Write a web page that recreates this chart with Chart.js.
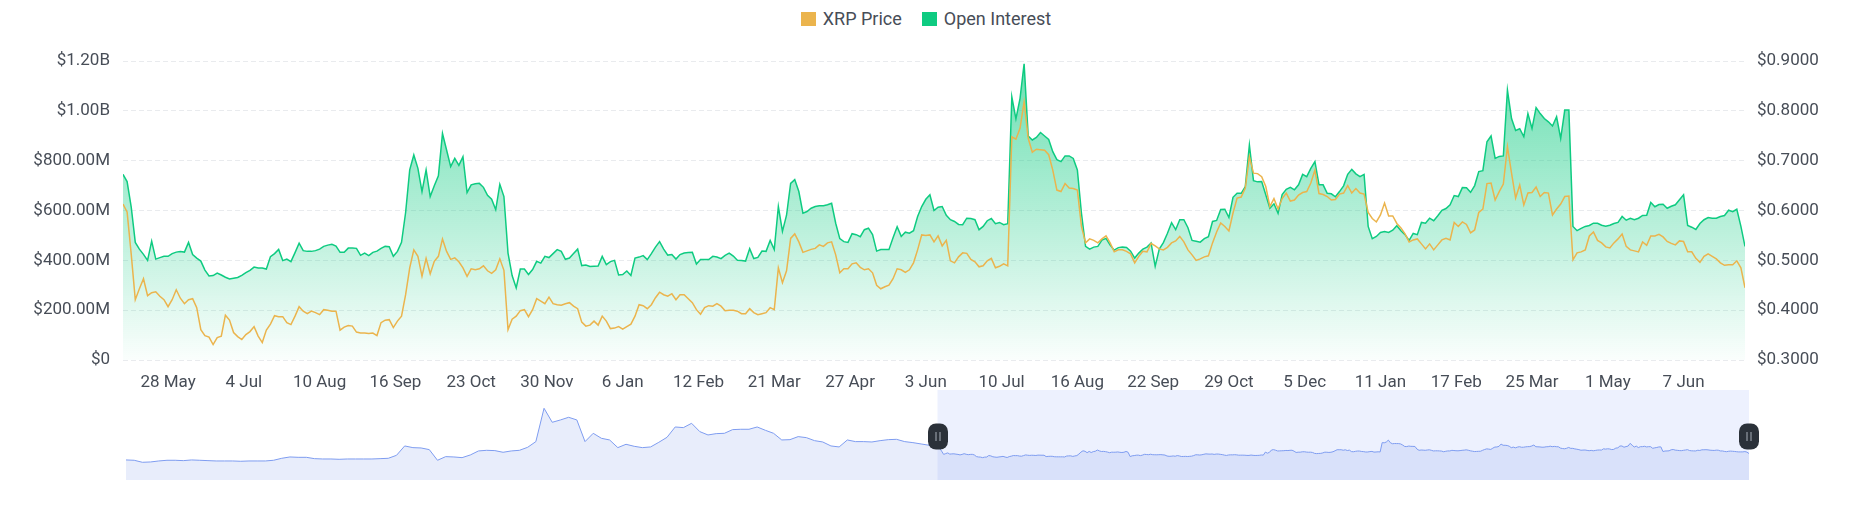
<!DOCTYPE html>
<html>
<head>
<meta charset="utf-8">
<title>XRP Open Interest</title>
<script src="https://cdn.jsdelivr.net/npm/chart.js@4.4.1/dist/chart.umd.min.js"></script>
<style>
  body { margin: 0; background: #fff; font-family: Roboto, sans-serif; }
  #wrap { position: relative; width: 1852px; height: 525px; }
  #mainChart, #navChart { position: absolute; left: 0; }
  #mainChart { top: 0; }
  #navChart { top: 385px; }
  #legend {
    position: absolute; top: 9px; left: 0; width: 1852px;
    display: flex; justify-content: center; gap: 20px;
    font-size: 18px; line-height: 20px; color: #474D57;
  }
  .item { display: flex; align-items: center; }
  .box { width: 15px; height: 14px; margin-right: 7px; }
</style>
</head>
<body>
<div id="wrap">
  <div id="legend"></div>
  <canvas id="mainChart" width="1852" height="400"></canvas>
  <canvas id="navChart" width="1852" height="100"></canvas>
</div>
<script>
// ---------- DATA ----------
// one sample every 2 days, day 0 = 6 May 2022
const SAMPLE_DAYS = 2;

// open interest, USD millions
const openInterest = [
  745, 716, 615, 472, 445, 424, 400, 477, 405, 411,
  416, 416, 427, 433, 435, 433, 472, 423, 409, 397,
  361, 337, 339, 349, 341, 332, 325, 328, 331, 340,
  351, 360, 373, 369, 369, 365, 415, 427, 444, 399,
  405, 395, 431, 469, 439, 436, 436, 439, 445, 456,
  461, 464, 457, 432, 432, 449, 449, 448, 420, 429,
  419, 432, 437, 448, 456, 455, 416, 436, 472, 592,
  763, 823, 769, 676, 763, 656, 699, 739, 909, 843,
  776, 809, 781, 816, 672, 703, 707, 709, 693, 661,
  645, 603, 705, 656, 429, 339, 289, 365, 365, 343,
  363, 396, 389, 416, 411, 427, 443, 436, 404, 409,
  427, 445, 379, 381, 375, 376, 377, 416, 383, 395,
  400, 341, 343, 357, 339, 409, 413, 419, 403, 427,
  453, 475, 445, 421, 423, 405, 423, 429, 431, 432,
  385, 403, 403, 403, 416, 413, 407, 420, 429, 417,
  400, 399, 397, 447, 407, 412, 437, 436, 480, 443,
  616, 516, 581, 709, 724, 676, 589, 596, 609, 616,
  619, 619, 623, 629, 549, 487, 475, 472, 507, 503,
  495, 523, 529, 503, 437, 443, 443, 443, 491, 535,
  496, 513, 509, 519, 576, 616, 645, 663, 600, 613,
  616, 581, 563, 556, 544, 543, 569, 568, 563, 523,
  536, 559, 568, 547, 552, 543, 547, 1056, 968, 1049,
  1189, 899, 883, 893, 913, 899, 885, 836, 804, 796,
  819, 819, 809, 763, 589, 456, 445, 453, 456, 481,
  488, 461, 441, 451, 453, 452, 437, 409, 429, 445,
  453, 469, 376, 445, 471, 509, 551, 523, 563, 563,
  531, 480, 477, 473, 487, 495, 556, 560, 604, 605,
  572, 653, 669, 669, 696, 863, 720, 715, 716, 663,
  609, 627, 589, 664, 685, 693, 683, 703, 745, 736,
  769, 796, 703, 703, 669, 667, 655, 676, 699, 745,
  765, 747, 736, 745, 536, 487, 496, 512, 516, 512,
  521, 539, 519, 503, 480, 508, 503, 552, 549, 569,
  559, 579, 601, 608, 623, 660, 656, 692, 691, 673,
  700, 756, 760, 876, 899, 809, 817, 819, 1083, 969,
  921, 928, 896, 989, 929, 1013, 989, 969, 956, 939,
  976, 889, 1003, 1003, 536, 519, 528, 536, 540, 549,
  549, 541, 537, 541, 548, 552, 576, 561, 569, 563,
  569, 580, 581, 632, 615, 624, 625, 609, 617, 623,
  643, 663, 540, 533, 524, 548, 563, 572, 569, 569,
  576, 580, 601, 595, 605, 536, 456
];

// XRP price, USD
const xrpPrice = [
  0.613, 0.597, 0.513, 0.421, 0.443, 0.463, 0.429, 0.435, 0.437, 0.428,
  0.421, 0.407, 0.421, 0.441, 0.424, 0.413, 0.421, 0.423, 0.405, 0.361,
  0.349, 0.346, 0.331, 0.345, 0.348, 0.390, 0.380, 0.355, 0.347, 0.341,
  0.351, 0.357, 0.367, 0.348, 0.335, 0.360, 0.372, 0.389, 0.387, 0.387,
  0.375, 0.371, 0.388, 0.407, 0.398, 0.393, 0.398, 0.395, 0.391, 0.401,
  0.400, 0.398, 0.398, 0.360, 0.366, 0.369, 0.368, 0.356, 0.354, 0.354,
  0.353, 0.354, 0.349, 0.375, 0.380, 0.381, 0.365, 0.378, 0.388, 0.431,
  0.485, 0.521, 0.508, 0.468, 0.504, 0.473, 0.498, 0.508, 0.543, 0.518,
  0.502, 0.505, 0.497, 0.485, 0.468, 0.483, 0.481, 0.483, 0.489, 0.479,
  0.474, 0.481, 0.503, 0.480, 0.361, 0.382, 0.388, 0.399, 0.401, 0.387,
  0.401, 0.423, 0.418, 0.413, 0.426, 0.413, 0.411, 0.410, 0.413, 0.415,
  0.408, 0.403, 0.376, 0.368, 0.370, 0.378, 0.370, 0.388, 0.378, 0.363,
  0.364, 0.367, 0.362, 0.367, 0.372, 0.388, 0.411, 0.409, 0.403, 0.411,
  0.425, 0.436, 0.431, 0.428, 0.433, 0.421, 0.431, 0.431, 0.423, 0.415,
  0.401, 0.392, 0.405, 0.409, 0.408, 0.413, 0.408, 0.399, 0.400, 0.400,
  0.398, 0.393, 0.393, 0.403, 0.395, 0.391, 0.393, 0.395, 0.405, 0.401,
  0.485, 0.455, 0.479, 0.544, 0.553, 0.537, 0.516, 0.519, 0.522, 0.524,
  0.531, 0.528, 0.535, 0.537, 0.511, 0.475, 0.483, 0.483, 0.493, 0.495,
  0.486, 0.481, 0.483, 0.475, 0.450, 0.443, 0.447, 0.450, 0.463, 0.483,
  0.481, 0.476, 0.481, 0.495, 0.521, 0.551, 0.550, 0.551, 0.537, 0.549,
  0.529, 0.540, 0.499, 0.495, 0.507, 0.515, 0.514, 0.502, 0.497, 0.487,
  0.489, 0.499, 0.504, 0.485, 0.488, 0.493, 0.489, 0.748, 0.743, 0.765,
  0.818, 0.745, 0.717, 0.723, 0.722, 0.721, 0.712, 0.681, 0.641, 0.638,
  0.654, 0.645, 0.644, 0.641, 0.568, 0.535, 0.543, 0.540, 0.535, 0.543,
  0.549, 0.535, 0.517, 0.521, 0.521, 0.518, 0.513, 0.495, 0.508, 0.518,
  0.517, 0.534, 0.529, 0.523, 0.521, 0.526, 0.535, 0.539, 0.548, 0.537,
  0.521, 0.511, 0.500, 0.503, 0.507, 0.509, 0.535, 0.557, 0.575, 0.568,
  0.559, 0.595, 0.625, 0.627, 0.645, 0.708, 0.675, 0.674, 0.668, 0.648,
  0.608, 0.624, 0.603, 0.624, 0.635, 0.619, 0.621, 0.631, 0.636, 0.638,
  0.655, 0.681, 0.634, 0.632, 0.628, 0.621, 0.622, 0.633, 0.635, 0.650,
  0.635, 0.644, 0.635, 0.633, 0.596, 0.584, 0.577, 0.591, 0.615, 0.589,
  0.589, 0.574, 0.565, 0.553, 0.537, 0.541, 0.543, 0.533, 0.523, 0.533,
  0.521, 0.531, 0.541, 0.544, 0.541, 0.576, 0.568, 0.577, 0.572, 0.555,
  0.561, 0.596, 0.603, 0.654, 0.655, 0.621, 0.638, 0.653, 0.728, 0.675,
  0.625, 0.651, 0.611, 0.635, 0.636, 0.647, 0.628, 0.636, 0.635, 0.591,
  0.603, 0.613, 0.628, 0.629, 0.501, 0.515, 0.517, 0.521, 0.549, 0.557,
  0.540, 0.535, 0.527, 0.525, 0.535, 0.543, 0.553, 0.528, 0.521, 0.519,
  0.517, 0.537, 0.530, 0.549, 0.549, 0.552, 0.547, 0.538, 0.534, 0.531,
  0.539, 0.538, 0.517, 0.517, 0.504, 0.496, 0.508, 0.513, 0.508, 0.503,
  0.495, 0.490, 0.491, 0.491, 0.499, 0.485, 0.445
];

// navigator: older XRP price, one sample every 8 days, ending just before day 0
const HISTORY_DAYS = 8;
const priceHistory = [
  0.267, 0.258, 0.202, 0.211, 0.239, 0.258, 0.258, 0.248, 0.267, 0.258,
  0.248, 0.239, 0.239, 0.239, 0.230, 0.239, 0.239, 0.239, 0.258, 0.313,
  0.350, 0.340, 0.340, 0.303, 0.294, 0.294, 0.285, 0.294, 0.294, 0.294,
  0.294, 0.303, 0.313, 0.396, 0.656, 0.609, 0.600, 0.554, 0.258, 0.359,
  0.350, 0.331, 0.405, 0.517, 0.535, 0.526, 0.480, 0.517, 0.535, 0.618,
  0.776, 1.702, 1.313, 1.378, 1.452, 1.378, 0.776, 1.007, 0.868, 0.822,
  0.609, 0.702, 0.646, 0.609, 0.628, 0.757, 0.896, 1.183, 1.165, 1.285,
  1.054, 0.961, 0.998, 1.007, 1.109, 1.119, 1.119, 1.183, 1.091, 1.007,
  0.822, 0.831, 0.915, 0.887, 0.803, 0.766, 0.656, 0.628, 0.822, 0.776,
  0.776, 0.766, 0.803, 0.831, 0.840, 0.776, 0.748, 0.711, 0.674
];

// axis ticks
const xTickLabels = [
  '28 May', '4 Jul', '10 Aug', '16 Sep', '23 Oct', '30 Nov', '6 Jan',
  '12 Feb', '21 Mar', '27 Apr', '3 Jun', '10 Jul', '16 Aug', '22 Sep',
  '29 Oct', '5 Dec', '11 Jan', '17 Feb', '25 Mar', '1 May', '7 Jun'
];
const FIRST_TICK_DAY = 22;   // 28 May 2022
const TICK_EVERY_DAYS = 37;
const oiTicks = [0, 200, 400, 600, 800, 1000, 1200];
const priceTicks = [0.3, 0.4, 0.5, 0.6, 0.7, 0.8, 0.9];

// ---------- POINTS ----------
const lastDay = (openInterest.length - 1) * SAMPLE_DAYS;
const oiPoints = openInterest.map((v, i) => ({ x: i * SAMPLE_DAYS, y: v }));
const pricePoints = xrpPrice.map((v, i) => ({ x: i * SAMPLE_DAYS, y: v }));
const historyPoints = priceHistory.map((v, i) => ({
  x: (i - priceHistory.length) * HISTORY_DAYS, y: v
}));

Chart.defaults.font.family = 'Roboto, sans-serif';
Chart.defaults.font.size = 17;
Chart.defaults.color = '#474D57';

const fmtOI = v => {
  if (v === 0) return '$0';
  if (v >= 1000) return '$' + (v / 1000).toFixed(2) + 'B';
  return '$' + v.toFixed(2) + 'M';
};

// ---------- MAIN CHART ----------
const main = new Chart(document.getElementById('mainChart'), {
  type: 'line',
  data: {
    datasets: [{
      label: 'XRP Price',
      data: pricePoints,
      yAxisID: 'yPrice',
      borderColor: '#EBB44D',
      borderWidth: 1.5,
      pointRadius: 0,
      fill: false
    }, {
      label: 'Open Interest',
      data: oiPoints,
      yAxisID: 'yOI',
      borderColor: '#0ECB81',
      borderWidth: 1.5,
      pointRadius: 0,
      fill: 'origin',
      backgroundColor: ctx => {
        const area = ctx.chart.chartArea;
        if (!area) return 'rgba(14,203,129,0.3)';
        const g = ctx.chart.ctx.createLinearGradient(0, area.top, 0, area.bottom);
        g.addColorStop(0, 'rgba(14,203,129,0.62)');
        g.addColorStop(1, 'rgba(14,203,129,0.02)');
        return g;
      }
    }]
  },
  options: {
    responsive: false,
    animation: false,
    devicePixelRatio: 1,
    layout: { padding: { top: 61, left: 0, right: 0, bottom: 0 } },
    plugins: { legend: { display: false }, tooltip: { enabled: false } },
    scales: {
      x: {
        type: 'linear',
        min: 0,
        max: lastDay,
        grid: { display: false },
        border: { display: false },
        afterBuildTicks: s => {
          s.ticks = xTickLabels.map((_, i) => ({ value: FIRST_TICK_DAY + i * TICK_EVERY_DAYS }));
        },
        ticks: {
          autoSkip: false,
          maxRotation: 0,
          padding: 5,
          callback: (v, i) => xTickLabels[i]
        },
        afterFit: s => { s.height = 40; }
      },
      yOI: {
        position: 'left',
        min: 0,
        max: 1200,
        afterBuildTicks: s => { s.ticks = oiTicks.map(v => ({ value: v })); },
        grid: { color: '#E9EBEE', drawTicks: false },
        border: { display: false, dash: [5, 3] },
        ticks: { padding: 13, callback: fmtOI },
        afterFit: s => { s.width = 123; }
      },
      yPrice: {
        position: 'right',
        min: 0.3,
        max: 0.9,
        afterBuildTicks: s => { s.ticks = priceTicks.map(v => ({ value: v })); },
        grid: { display: false, drawTicks: false },
        border: { display: false },
        ticks: { padding: 12, callback: v => '$' + v.toFixed(4) },
        afterFit: s => { s.width = 107; }
      }
    }
  }
});

// ---------- LEGEND ----------
const legend = document.getElementById('legend');
main.data.datasets.forEach(ds => {
  legend.innerHTML += `<span class="item"><span class="box" style="background:${ds.borderColor}"></span>${ds.label}</span>`;
});

// ---------- NAVIGATOR ----------
const navigatorWindow = {
  id: 'navigatorWindow',
  beforeDatasetsDraw(chart) {
    const { ctx, chartArea: a, scales: { x } } = chart;
    const x0 = x.getPixelForValue(0);
    const x1 = x.getPixelForValue(lastDay);
    ctx.save();
    ctx.fillStyle = 'rgba(110,140,250,0.12)';
    ctx.fillRect(x0, a.top, x1 - x0, a.bottom - a.top);
    ctx.restore();
  },
  afterDatasetsDraw(chart) {
    const { ctx, chartArea: a, scales: { x } } = chart;
    const cy = (a.top + a.bottom) / 2 + 1.5;
    [0, lastDay].forEach(day => {
      const hx = Math.round(x.getPixelForValue(day));
      ctx.save();
      ctx.fillStyle = '#2B3139';
      ctx.beginPath();
      ctx.roundRect(hx - 10, cy - 13, 20, 26, 8);
      ctx.fill();
      ctx.strokeStyle = '#A7AEB8';
      ctx.lineWidth = 1;
      ctx.beginPath();
      ctx.moveTo(hx - 2, cy - 4.5); ctx.lineTo(hx - 2, cy + 4.5);
      ctx.moveTo(hx + 2, cy - 4.5); ctx.lineTo(hx + 2, cy + 4.5);
      ctx.stroke();
      ctx.restore();
    });
  }
};

new Chart(document.getElementById('navChart'), {
  type: 'line',
  data: {
    datasets: [{
      data: historyPoints.concat(pricePoints),
      borderColor: '#7E9CF0',
      borderWidth: 1,
      pointRadius: 0,
      fill: 'start',
      backgroundColor: 'rgba(100,137,230,0.15)'
    }]
  },
  options: {
    responsive: false,
    animation: false,
    devicePixelRatio: 1,
    layout: { padding: { left: 126, right: 103, top: 5, bottom: 5 } },
    plugins: { legend: { display: false }, tooltip: { enabled: false } },
    scales: {
      x: { type: 'linear', display: false, min: historyPoints[0].x, max: lastDay },
      y: { display: false, min: -0.29, max: 2.21 }
    }
  },
  plugins: [navigatorWindow]
});
</script>
</body>
</html>
